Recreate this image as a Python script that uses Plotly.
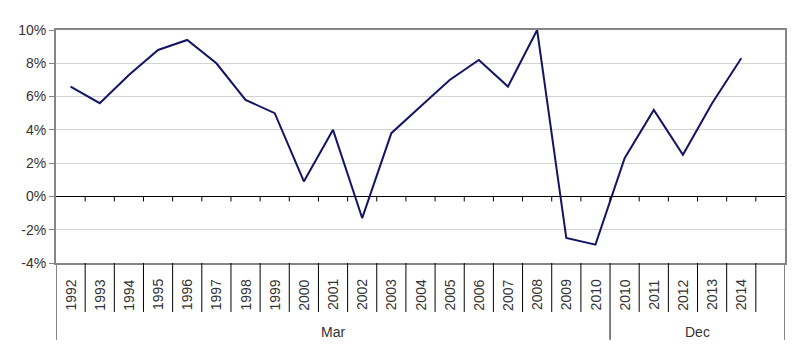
import plotly.graph_objects as go

# ---- data ----
groups = ["Mar"] * 19 + ["Dec"] * 6
years = ["1992", "1993", "1994", "1995", "1996", "1997", "1998", "1999", "2000",
         "2001", "2002", "2003", "2004", "2005", "2006", "2007", "2008", "2009",
         "2010", "2010", "2011", "2012", "2013", "2014", ""]
values = [6.6, 5.6, 7.3, 8.8, 9.4, 8.0, 5.8, 5.0, 0.9,
          4.0, -1.3, 3.8, 5.4, 7.0, 8.2, 6.6, 10.0, -2.5,
          -2.9, 2.3, 5.2, 2.5, 5.6, 8.3, None]
y_ticks = [-4, -2, 0, 2, 4, 6, 8, 10]

n = len(years)
xpos = [i + 0.5 for i in range(n)]

FONT = "Liberation Sans, Arial, sans-serif"
LABEL_COLOR = "#333333"
AXIS_GRAY = "#858585"

fig = go.Figure()
fig.add_trace(go.Scatter(
    x=xpos, y=values, mode="lines",
    line=dict(color="#141466", width=2),
    connectgaps=False, hoverinfo="skip", showlegend=False,
))

shapes = []
annotations = []

# boundaries between categories
group_breaks = [i for i in range(1, n) if groups[i] != groups[i - 1]]
for k in range(1, n):
    # short ticks on zero line
    shapes.append(dict(type="line", xref="x", yref="y", x0=k, x1=k, y0=0, y1=-0.3,
                       line=dict(color="black", width=1)))
    # separators in label table
    y1 = -0.33 if k in group_breaks else -0.21
    shapes.append(dict(type="line", xref="x", yref="paper", x0=k, x1=k, y0=0, y1=y1,
                       line=dict(color="black", width=1)))
# left and right borders down into the label area
for k in (0, n):
    shapes.append(dict(type="line", xref="x", yref="paper", x0=k, x1=k, y0=0, y1=-0.33,
                       line=dict(color=AXIS_GRAY, width=2)))

# year labels
for x, yr in zip(xpos, years):
    if yr:
        annotations.append(dict(x=x, y=-0.137, xref="x", yref="paper", text=yr,
                                textangle=-90, showarrow=False,
                                xanchor="center", yanchor="middle",
                                font=dict(family=FONT, size=14, color=LABEL_COLOR)))
# group labels
starts = [0] + group_breaks
ends = group_breaks + [n]
for s, e in zip(starts, ends):
    annotations.append(dict(x=(s + e) / 2, y=-0.296, xref="x", yref="paper",
                            text=groups[s], showarrow=False,
                            xanchor="center", yanchor="middle",
                            font=dict(family=FONT, size=14, color=LABEL_COLOR)))

fig.update_layout(
    width=800, height=353,
    margin=dict(l=56, r=15, t=30, b=90),
    paper_bgcolor="white", plot_bgcolor="white",
    shapes=shapes, annotations=annotations,
    xaxis=dict(range=[0, n], showgrid=False, zeroline=False, showticklabels=False,
               ticks="", showline=True, linecolor=AXIS_GRAY, linewidth=2, mirror=True,
               fixedrange=True),
    yaxis=dict(range=[-4, 10], tickvals=y_ticks, ticktext=[f"{v}%" for v in y_ticks],
               showgrid=True, gridcolor="#d3d3d3", gridwidth=1,
               zeroline=True, zerolinecolor="black", zerolinewidth=1,
               showline=True, linecolor=AXIS_GRAY, linewidth=2, mirror=True,
               ticks="outside", ticklen=5, tickcolor=AXIS_GRAY,
               tickfont=dict(family=FONT, size=14, color=LABEL_COLOR),
               fixedrange=True),
)

fig.write_html("out.html")
